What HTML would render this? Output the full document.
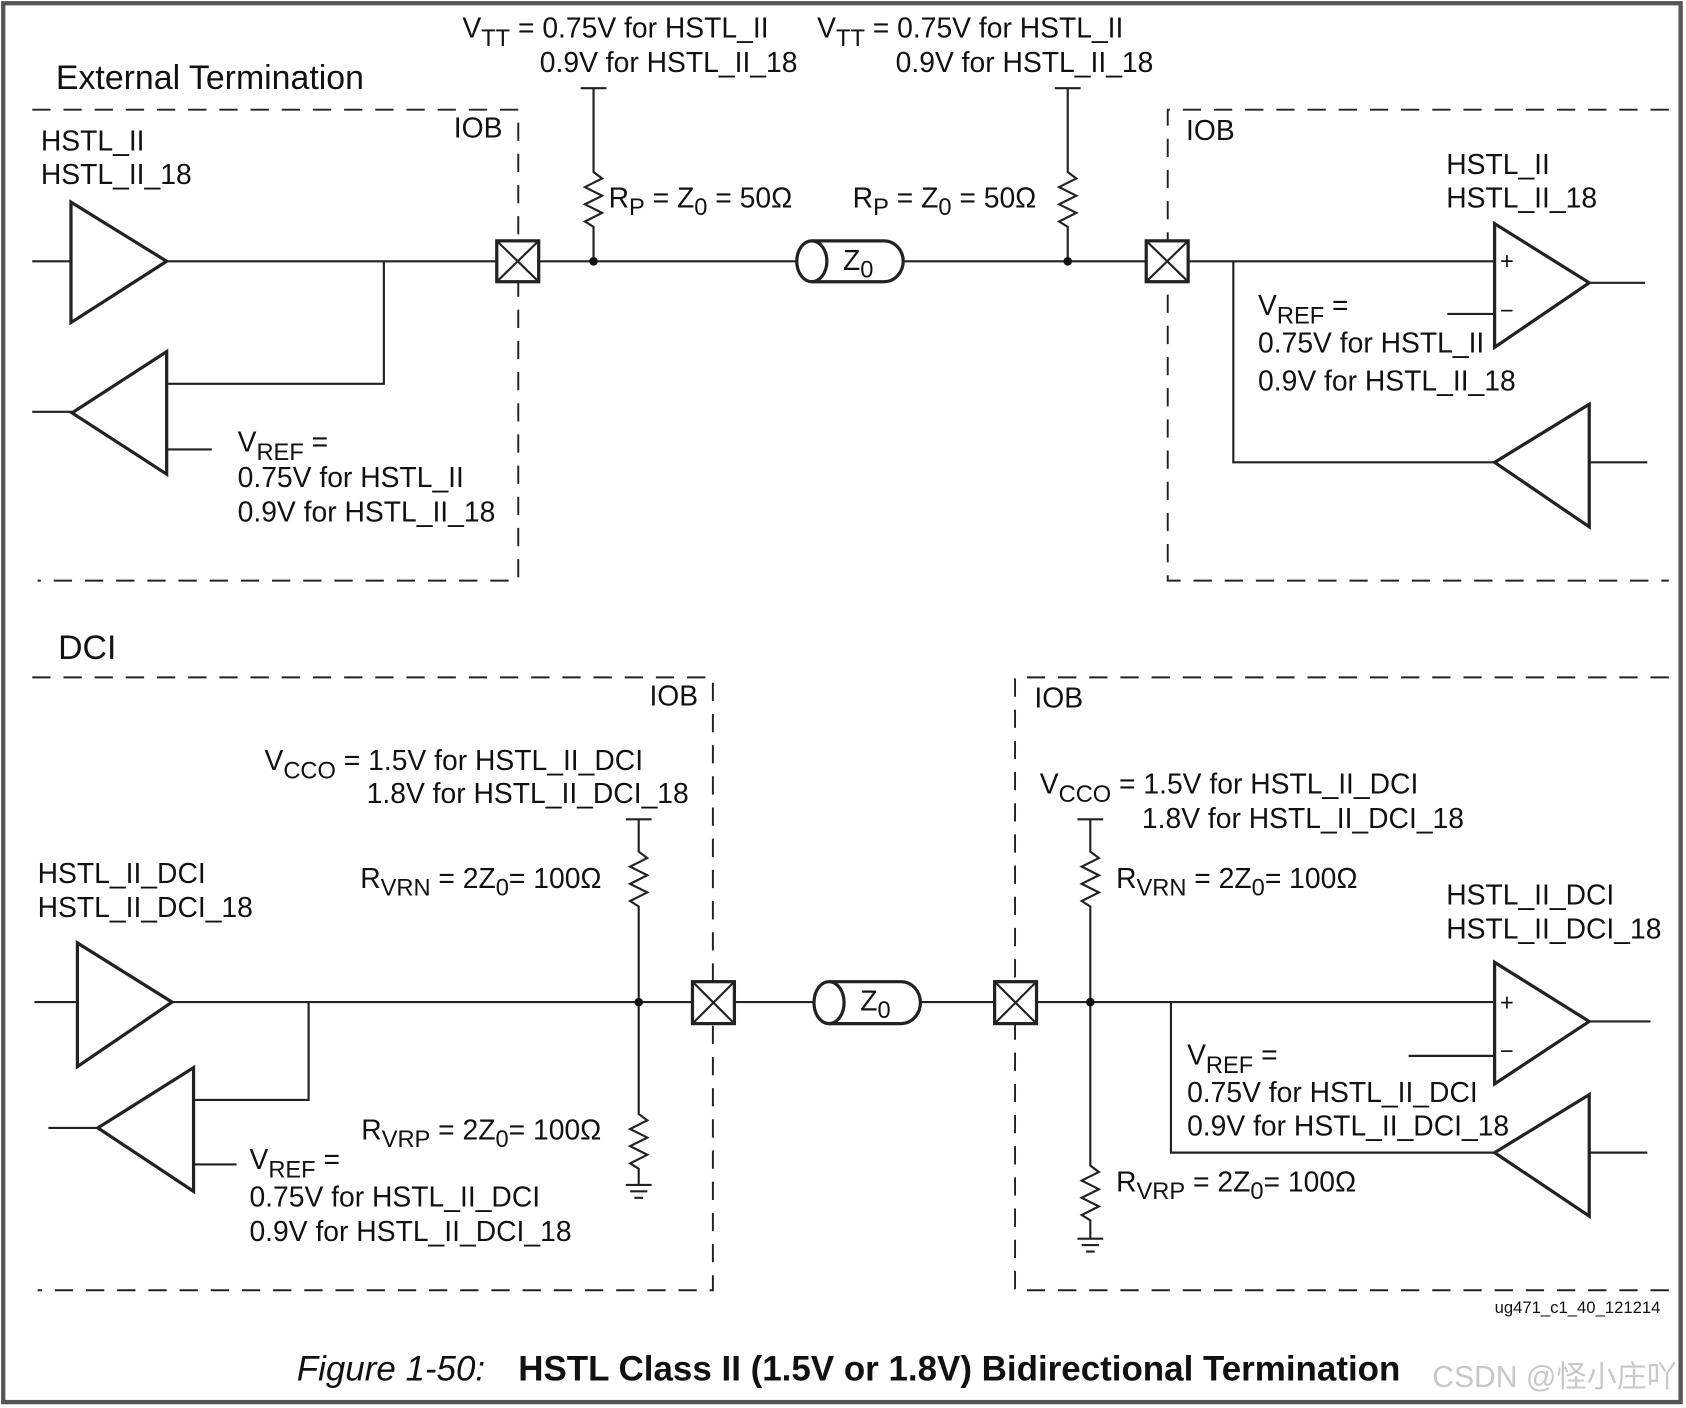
<!DOCTYPE html>
<html><head><meta charset="utf-8"><style>
html,body{margin:0;padding:0;background:#fff;}
svg{display:block;}
text{font-family:"Liberation Sans",Arial,sans-serif;fill:#111;}
.t{font-size:26.3px;}
.s{font-size:22px;}
</style></head><body>
<svg width="1686" height="1408" viewBox="0 0 1568 1309.5" preserveAspectRatio="none" xmlns="http://www.w3.org/2000/svg">
<rect x="0" y="0" width="1568" height="1310" fill="#fff"/>
<rect x="3" y="3" width="1560" height="1301" fill="none" stroke="#555" stroke-width="4"/>
<g fill="none" stroke="#222" stroke-width="2">
<g stroke-dasharray="17,12" stroke-width="1.8">
<path d="M30 102H482V540H35"/>
<path d="M1552 102H1086V540H1552"/>
<path d="M30 630H663V1200H35"/>
<path d="M1552 630H944V1200H1552"/>
</g>
<path d="M30 243H66M155 243H462M501 243H740M840 243H1066M1105 243H1390"/>
<path d="M66 188V300L155 243Z" stroke-width="3"/>
<path d="M155 327V441L67 384Z" stroke-width="3"/>
<path d="M30 383H67M155 357H357V243M155 418H197"/>
<rect x="462" y="224" width="39" height="38" stroke-width="3" fill="#fff"/>
<path d="M462 224L501 262M501 224L462 262"/>
<rect x="1066" y="224" width="39" height="38" stroke-width="3" fill="#fff"/>
<path d="M1066 224L1105 262M1105 224L1066 262"/>
<path d="M540 82H564M552 82V160l8 6-16 8 16 8-16 8 16 8-16 8 8 5V243"/>
<path d="M981 82H1005M993 82V160l8 6-16 8 16 8-16 8 16 8-16 8 8 5V243"/>
<path d="M755 224H822A18 19 0 0 1 822 262H755" stroke-width="3"/>
<ellipse cx="755" cy="243" rx="14" ry="19" stroke-width="3"/>
<path d="M1390 208V323L1478 263Z" stroke-width="3"/>
<path d="M1478 263H1530M1346 292H1390M1147 243V430H1390"/>
<path d="M1478 376V490L1390 430Z" stroke-width="3"/>
<path d="M1478 430H1532"/>
<path d="M32 932H72M160 932H644M683 932H756M856 932H925M964 932H1390"/>
<path d="M72 877V992L160 932Z" stroke-width="3"/>
<path d="M287 932V1023H180"/>
<path d="M180 993V1108L91 1049Z" stroke-width="3"/>
<path d="M45 1049H91M180 1083H220"/>
<rect x="644" y="913" width="39" height="39" stroke-width="3" fill="#fff"/>
<path d="M644 913L683 952M683 913L644 952"/>
<rect x="925" y="913" width="39" height="39" stroke-width="3" fill="#fff"/>
<path d="M925 913L964 952M964 913L925 952"/>
<path d="M771 913H838A18 19.5 0 0 1 838 952H771" stroke-width="3"/>
<ellipse cx="771" cy="932.5" rx="14" ry="19.5" stroke-width="3"/>
<path d="M582 762H606M594 762V792l8 6-16 8 16 8-16 8 16 8-16 8 8 5V932"/>
<path d="M594 932V1036l8 6-16 8 16 8-16 8 16 8-16 8 8 5V1102M582 1102H606M586 1108H602M590 1114H598"/>
<path d="M1002 762H1026M1014 762V792l8 6-16 8 16 8-16 8 16 8-16 8 8 5V932"/>
<path d="M1014 932V1084l8 6-16 8 16 8-16 8 16 8-16 8 8 5V1152M1002 1152H1026M1006 1158H1022M1010 1164H1018"/>
<path d="M1390 895V1008L1478 950Z" stroke-width="3"/>
<path d="M1478 950H1535M1310 982H1390M1089 932V1072H1390"/>
<path d="M1478 1018V1131L1390 1072Z" stroke-width="3"/>
<path d="M1478 1072H1532"/>
</g>
<g fill="#111">
<circle cx="552" cy="243" r="4"/><circle cx="993" cy="243" r="4"/>
<circle cx="594" cy="932" r="4"/><circle cx="1014" cy="932" r="4"/>
</g>
<text x="52" y="83" style="font-size:31.5px">External Termination</text>
<text x="54" y="613" style="font-size:31.5px">DCI</text>
<g class="t">
<text x="422" y="128">IOB</text>
<text x="1103" y="130">IOB</text>
<text x="604" y="656">IOB</text>
<text x="962" y="658">IOB</text>
<text x="38" y="140">HSTL_II</text>
<text x="38" y="171">HSTL_II_18</text>
<text x="1345" y="162">HSTL_II</text>
<text x="1345" y="193">HSTL_II_18</text>
<text x="430" y="35">V<tspan class="s" dy="8">TT</tspan><tspan dy="-8"> = 0.75V for HSTL_II</tspan></text>
<text x="502" y="67">0.9V for HSTL_II_18</text>
<text x="760" y="35">V<tspan class="s" dy="8">TT</tspan><tspan dy="-8"> = 0.75V for HSTL_II</tspan></text>
<text x="833" y="67">0.9V for HSTL_II_18</text>
<text x="566" y="193">R<tspan class="s" dy="7">P</tspan><tspan dy="-7"> = Z</tspan><tspan class="s" dy="7">0</tspan><tspan dy="-7"> = 50Ω</tspan></text>
<text x="793" y="193">R<tspan class="s" dy="7">P</tspan><tspan dy="-7"> = Z</tspan><tspan class="s" dy="7">0</tspan><tspan dy="-7"> = 50Ω</tspan></text>
<text x="784" y="251">Z<tspan class="s" dy="7">0</tspan></text>
<text x="800" y="940">Z<tspan class="s" dy="7">0</tspan></text>
<text x="221" y="420">V<tspan class="s" dy="8">REF</tspan><tspan dy="-8"> =</tspan></text>
<text x="221" y="453">0.75V for HSTL_II</text>
<text x="221" y="485">0.9V for HSTL_II_18</text>
<text x="1170" y="293">V<tspan class="s" dy="8">REF</tspan><tspan dy="-8"> =</tspan></text>
<text x="1170" y="328">0.75V for HSTL_II</text>
<text x="1170" y="363">0.9V for HSTL_II_18</text>
<text x="1395" y="250" style="font-size:22px">+</text>
<text x="1395" y="296" style="font-size:22px">−</text>
<text x="1395" y="940" style="font-size:22px">+</text>
<text x="1395" y="985" style="font-size:22px">−</text>
<text x="246" y="716">V<tspan class="s" dy="8">CCO</tspan><tspan dy="-8"> = 1.5V for HSTL_II_DCI</tspan></text>
<text x="341" y="747">1.8V for HSTL_II_DCI_18</text>
<text x="967" y="738">V<tspan class="s" dy="8">CCO</tspan><tspan dy="-8"> = 1.5V for HSTL_II_DCI</tspan></text>
<text x="1062" y="770">1.8V for HSTL_II_DCI_18</text>
<text x="35" y="821">HSTL_II_DCI</text>
<text x="35" y="853">HSTL_II_DCI_18</text>
<text x="1345" y="841">HSTL_II_DCI</text>
<text x="1345" y="873">HSTL_II_DCI_18</text>
<text x="335" y="826">R<tspan class="s" dy="7">VRN</tspan><tspan dy="-7"> = 2Z</tspan><tspan class="s" dy="7">0</tspan><tspan dy="-7">= 100Ω</tspan></text>
<text x="1038" y="826">R<tspan class="s" dy="7">VRN</tspan><tspan dy="-7"> = 2Z</tspan><tspan class="s" dy="7">0</tspan><tspan dy="-7">= 100Ω</tspan></text>
<text x="336" y="1060">R<tspan class="s" dy="7">VRP</tspan><tspan dy="-7"> = 2Z</tspan><tspan class="s" dy="7">0</tspan><tspan dy="-7">= 100Ω</tspan></text>
<text x="1038" y="1108">R<tspan class="s" dy="7">VRP</tspan><tspan dy="-7"> = 2Z</tspan><tspan class="s" dy="7">0</tspan><tspan dy="-7">= 100Ω</tspan></text>
<text x="232" y="1087">V<tspan class="s" dy="8">REF</tspan><tspan dy="-8"> =</tspan></text>
<text x="232" y="1122">0.75V for HSTL_II_DCI</text>
<text x="232" y="1154">0.9V for HSTL_II_DCI_18</text>
<text x="1104" y="990">V<tspan class="s" dy="8">REF</tspan><tspan dy="-8"> =</tspan></text>
<text x="1104" y="1025">0.75V for HSTL_II_DCI</text>
<text x="1104" y="1056">0.9V for HSTL_II_DCI_18</text>
</g>
<text x="1390" y="1221" style="font-size:15.5px">ug471_c1_40_121214</text>
<text x="276" y="1284" style="font-size:32.5px;font-style:italic">Figure 1-50:</text>
<text x="482" y="1284" style="font-size:32.5px;font-weight:bold">HSTL Class II (1.5V or 1.8V) Bidirectional Termination</text>
<text x="1332" y="1290" style="font-size:28px;fill:#c8c8c8;font-family:'Liberation Sans','Noto Sans CJK SC',sans-serif">CSDN @怪小庄吖</text>
</svg>
</body></html>
